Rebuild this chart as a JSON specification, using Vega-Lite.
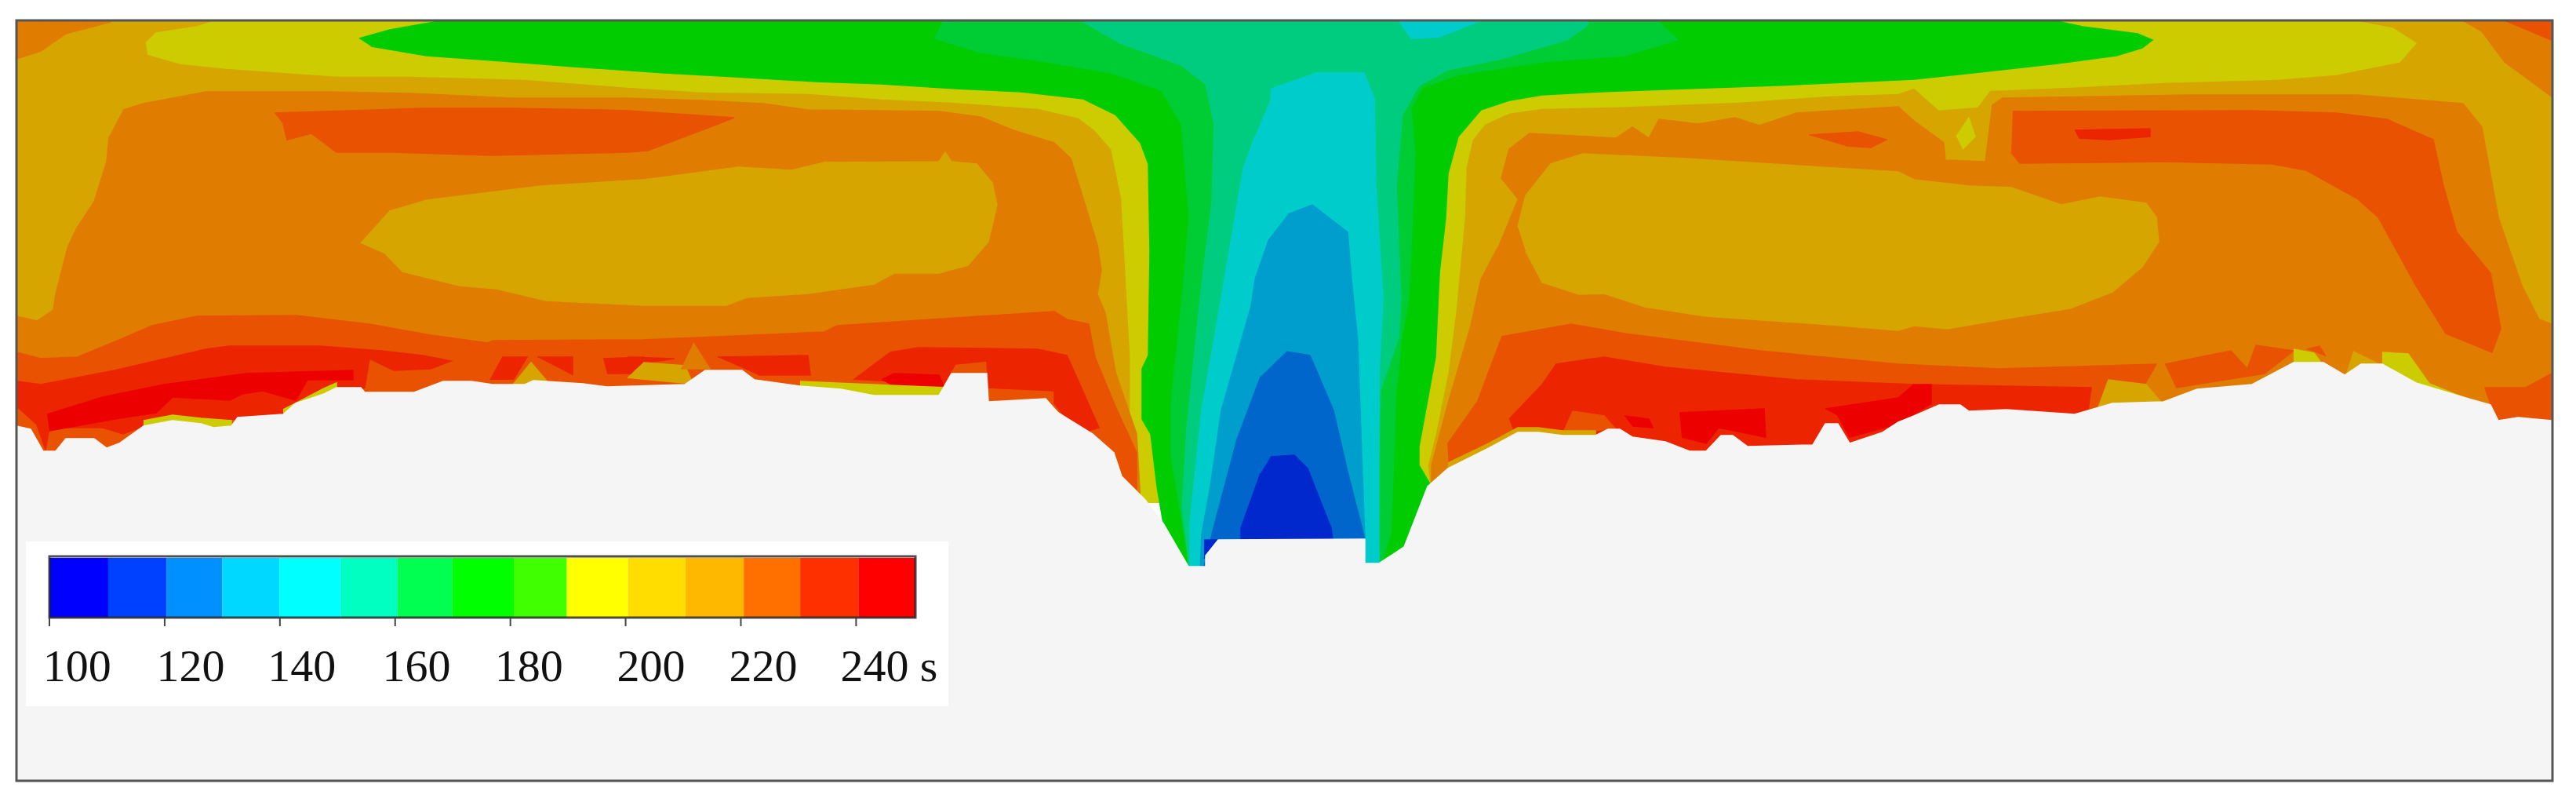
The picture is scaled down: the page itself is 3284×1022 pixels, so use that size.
{"$schema":"https://vega.github.io/schema/vega-lite/v6.json","width":3284,"height":1022,"padding":0,"autosize":"none","background":"white","config":{"view":{"stroke":null}},
"datasets":{"regions":[
{"s":1,"b":200,"x":21,"y":26},{"s":1,"b":200,"x":3253,"y":26},{"s":1,"b":200,"x":3253,"y":640},{"s":1,"b":200,"x":21,"y":640},
{"s":2,"b":220,"x":21,"y":26},{"s":2,"b":220,"x":141,"y":28},{"s":2,"b":220,"x":84,"y":43},{"s":2,"b":220,"x":52,"y":65},{"s":2,"b":220,"x":21,"y":75},
{"s":3,"b":220,"x":3140,"y":26},{"s":3,"b":220,"x":3164,"y":40},{"s":3,"b":220,"x":3193,"y":79},{"s":3,"b":220,"x":3253,"y":123},{"s":3,"b":220,"x":3253,"y":26},
{"s":4,"b":230,"x":3193,"y":26},{"s":4,"b":230,"x":3253,"y":51},{"s":4,"b":230,"x":3253,"y":26},
{"s":5,"b":190,"x":186,"y":55},{"s":5,"b":190,"x":199,"y":42},{"s":5,"b":190,"x":251,"y":34},{"s":5,"b":190,"x":277,"y":26},{"s":5,"b":190,"x":2997,"y":26},{"s":5,"b":190,"x":3050,"y":36},{"s":5,"b":190,"x":3080,"y":55},{"s":5,"b":190,"x":3059,"y":79},{"s":5,"b":190,"x":2978,"y":95},{"s":5,"b":190,"x":2903,"y":101},{"s":5,"b":190,"x":2758,"y":105},{"s":5,"b":190,"x":2639,"y":111},{"s":5,"b":190,"x":2537,"y":115},{"s":5,"b":190,"x":2521,"y":136},{"s":5,"b":190,"x":2472,"y":140},{"s":5,"b":190,"x":2440,"y":112},{"s":5,"b":190,"x":2420,"y":119},{"s":5,"b":190,"x":2332,"y":122},{"s":5,"b":190,"x":2217,"y":130},{"s":5,"b":190,"x":2060,"y":136},{"s":5,"b":190,"x":1966,"y":138},{"s":5,"b":190,"x":1924,"y":144},{"s":5,"b":190,"x":1893,"y":158},{"s":5,"b":190,"x":1877,"y":178},{"s":5,"b":190,"x":1869,"y":213},{"s":5,"b":190,"x":1867,"y":277},{"s":5,"b":190,"x":1856,"y":395},{"s":5,"b":190,"x":1846,"y":474},{"s":5,"b":190,"x":1830,"y":553},{"s":5,"b":190,"x":1820,"y":593},{"s":5,"b":190,"x":1825,"y":640},{"s":5,"b":190,"x":1454,"y":640},{"s":5,"b":190,"x":1441,"y":553},{"s":5,"b":190,"x":1441,"y":451},{"s":5,"b":190,"x":1430,"y":253},{"s":5,"b":190,"x":1417,"y":190},{"s":5,"b":190,"x":1396,"y":166},{"s":5,"b":190,"x":1375,"y":150},{"s":5,"b":190,"x":1323,"y":138},{"s":5,"b":190,"x":1213,"y":130},{"s":5,"b":190,"x":1124,"y":126},{"s":5,"b":190,"x":1030,"y":119},{"s":5,"b":190,"x":894,"y":117},{"s":5,"b":190,"x":800,"y":111},{"s":5,"b":190,"x":669,"y":101},{"s":5,"b":190,"x":523,"y":97},{"s":5,"b":190,"x":429,"y":97},{"s":5,"b":190,"x":288,"y":87},{"s":5,"b":190,"x":230,"y":81},{"s":5,"b":190,"x":188,"y":69},
{"s":6,"b":190,"x":2494,"y":174},{"s":6,"b":190,"x":2510,"y":150},{"s":6,"b":190,"x":2518,"y":174},{"s":6,"b":190,"x":2502,"y":190},
{"s":7,"b":170,"x":458,"y":49},{"s":7,"b":170,"x":497,"y":38},{"s":7,"b":170,"x":565,"y":26},{"s":7,"b":170,"x":2618,"y":26},{"s":7,"b":170,"x":2655,"y":34},{"s":7,"b":170,"x":2725,"y":43},{"s":7,"b":170,"x":2744,"y":51},{"s":7,"b":170,"x":2731,"y":61},{"s":7,"b":170,"x":2698,"y":71},{"s":7,"b":170,"x":2623,"y":81},{"s":7,"b":170,"x":2515,"y":93},{"s":7,"b":170,"x":2440,"y":101},{"s":7,"b":170,"x":2264,"y":109},{"s":7,"b":170,"x":2149,"y":113},{"s":7,"b":170,"x":2039,"y":117},{"s":7,"b":170,"x":1966,"y":121},{"s":7,"b":170,"x":1924,"y":128},{"s":7,"b":170,"x":1888,"y":140},{"s":7,"b":170,"x":1859,"y":174},{"s":7,"b":170,"x":1846,"y":221},{"s":7,"b":170,"x":1843,"y":277},{"s":7,"b":170,"x":1835,"y":348},{"s":7,"b":170,"x":1830,"y":455},{"s":7,"b":170,"x":1809,"y":569},{"s":7,"b":170,"x":1809,"y":593},{"s":7,"b":170,"x":1825,"y":620},{"s":7,"b":170,"x":1790,"y":730},{"s":7,"b":170,"x":1500,"y":730},{"s":7,"b":170,"x":1483,"y":667},{"s":7,"b":170,"x":1475,"y":620},{"s":7,"b":170,"x":1467,"y":553},{"s":7,"b":170,"x":1456,"y":534},{"s":7,"b":170,"x":1456,"y":470},{"s":7,"b":170,"x":1464,"y":453},{"s":7,"b":170,"x":1466,"y":320},{"s":7,"b":170,"x":1464,"y":209},{"s":7,"b":170,"x":1454,"y":182},{"s":7,"b":170,"x":1422,"y":146},{"s":7,"b":170,"x":1381,"y":126},{"s":7,"b":170,"x":1302,"y":117},{"s":7,"b":170,"x":1218,"y":113},{"s":7,"b":170,"x":1124,"y":107},{"s":7,"b":170,"x":1041,"y":104},{"s":7,"b":170,"x":920,"y":97},{"s":7,"b":170,"x":847,"y":93},{"s":7,"b":170,"x":732,"y":85},{"s":7,"b":170,"x":628,"y":77},{"s":7,"b":170,"x":544,"y":71},{"s":7,"b":170,"x":473,"y":59},
{"s":8,"b":160,"x":1203,"y":26},{"s":8,"b":160,"x":1192,"y":49},{"s":8,"b":160,"x":1250,"y":67},{"s":8,"b":160,"x":1323,"y":77},{"s":8,"b":160,"x":1417,"y":93},{"s":8,"b":160,"x":1480,"y":115},{"s":8,"b":160,"x":1506,"y":158},{"s":8,"b":160,"x":1516,"y":277},{"s":8,"b":160,"x":1507,"y":380},{"s":8,"b":160,"x":1493,"y":513},{"s":8,"b":160,"x":1493,"y":580},{"s":8,"b":160,"x":1515,"y":713},{"s":8,"b":160,"x":1515,"y":730},{"s":8,"b":160,"x":1758,"y":730},{"s":8,"b":160,"x":1773,"y":680},{"s":8,"b":160,"x":1777,"y":580},{"s":8,"b":160,"x":1780,"y":497},{"s":8,"b":160,"x":1787,"y":430},{"s":8,"b":160,"x":1796,"y":380},{"s":8,"b":160,"x":1799,"y":316},{"s":8,"b":160,"x":1804,"y":197},{"s":8,"b":160,"x":1799,"y":138},{"s":8,"b":160,"x":1814,"y":111},{"s":8,"b":160,"x":1861,"y":95},{"s":8,"b":160,"x":1966,"y":79},{"s":8,"b":160,"x":2071,"y":71},{"s":8,"b":160,"x":2139,"y":51},{"s":8,"b":160,"x":2113,"y":26},
{"s":9,"b":150,"x":1378,"y":26},{"s":9,"b":150,"x":1428,"y":55},{"s":9,"b":150,"x":1506,"y":83},{"s":9,"b":150,"x":1537,"y":107},{"s":9,"b":150,"x":1548,"y":158},{"s":9,"b":150,"x":1545,"y":257},{"s":9,"b":150,"x":1530,"y":380},{"s":9,"b":150,"x":1513,"y":547},{"s":9,"b":150,"x":1507,"y":647},{"s":9,"b":150,"x":1515,"y":713},{"s":9,"b":150,"x":1515,"y":730},{"s":9,"b":150,"x":1758,"y":730},{"s":9,"b":150,"x":1757,"y":613},{"s":9,"b":150,"x":1760,"y":497},{"s":9,"b":150,"x":1783,"y":430},{"s":9,"b":150,"x":1786,"y":380},{"s":9,"b":150,"x":1780,"y":237},{"s":9,"b":150,"x":1788,"y":146},{"s":9,"b":150,"x":1809,"y":109},{"s":9,"b":150,"x":1846,"y":89},{"s":9,"b":150,"x":1914,"y":75},{"s":9,"b":150,"x":1997,"y":51},{"s":9,"b":150,"x":2024,"y":32},{"s":9,"b":150,"x":2024,"y":26},
{"s":10,"b":140,"x":1620,"y":126},{"s":10,"b":140,"x":1621,"y":113},{"s":10,"b":140,"x":1678,"y":93},{"s":10,"b":140,"x":1739,"y":93},{"s":10,"b":140,"x":1752,"y":126},{"s":10,"b":140,"x":1754,"y":237},{"s":10,"b":140,"x":1763,"y":380},{"s":10,"b":140,"x":1758,"y":480},{"s":10,"b":140,"x":1758,"y":730},{"s":10,"b":140,"x":1517,"y":730},{"s":10,"b":140,"x":1517,"y":667},{"s":10,"b":140,"x":1532,"y":523},{"s":10,"b":140,"x":1557,"y":380},{"s":10,"b":140,"x":1585,"y":215},{"s":10,"b":140,"x":1600,"y":174},
{"s":11,"b":140,"x":1783,"y":26},{"s":11,"b":140,"x":1799,"y":49},{"s":11,"b":140,"x":1835,"y":47},{"s":11,"b":140,"x":1888,"y":26},
{"s":12,"b":130,"x":1642,"y":273},{"s":12,"b":130,"x":1673,"y":261},{"s":12,"b":130,"x":1718,"y":296},{"s":12,"b":130,"x":1723,"y":356},{"s":12,"b":130,"x":1731,"y":435},{"s":12,"b":130,"x":1733,"y":497},{"s":12,"b":130,"x":1740,"y":687},{"s":12,"b":130,"x":1740,"y":730},{"s":12,"b":130,"x":1530,"y":730},{"s":12,"b":130,"x":1532,"y":680},{"s":12,"b":130,"x":1543,"y":620},{"s":12,"b":130,"x":1557,"y":523},{"s":12,"b":130,"x":1595,"y":390},{"s":12,"b":130,"x":1600,"y":356},{"s":12,"b":130,"x":1618,"y":304},
{"s":13,"b":120,"x":1640,"y":448},{"s":13,"b":120,"x":1670,"y":453},{"s":13,"b":120,"x":1700,"y":523},{"s":13,"b":120,"x":1717,"y":597},{"s":13,"b":120,"x":1740,"y":687},{"s":13,"b":120,"x":1740,"y":730},{"s":13,"b":120,"x":1533,"y":730},{"s":13,"b":120,"x":1547,"y":673},{"s":13,"b":120,"x":1577,"y":560},{"s":13,"b":120,"x":1607,"y":480},
{"s":14,"b":110,"x":1620,"y":582},{"s":14,"b":110,"x":1650,"y":580},{"s":14,"b":110,"x":1667,"y":597},{"s":14,"b":110,"x":1697,"y":673},{"s":14,"b":110,"x":1700,"y":695},{"s":14,"b":110,"x":1582,"y":695},{"s":14,"b":110,"x":1582,"y":673},{"s":14,"b":110,"x":1607,"y":603},
{"s":15,"b":110,"x":1535,"y":688},{"s":15,"b":110,"x":1553,"y":688},{"s":15,"b":110,"x":1540,"y":705},{"s":15,"b":110,"x":1535,"y":712},
{"s":16,"b":220,"x":157,"y":140},{"s":16,"b":220,"x":183,"y":132},{"s":16,"b":220,"x":262,"y":117},{"s":16,"b":220,"x":418,"y":117},{"s":16,"b":220,"x":523,"y":119},{"s":16,"b":220,"x":654,"y":125},{"s":16,"b":220,"x":800,"y":125},{"s":16,"b":220,"x":894,"y":128},{"s":16,"b":220,"x":973,"y":132},{"s":16,"b":220,"x":1030,"y":140},{"s":16,"b":220,"x":1197,"y":142},{"s":16,"b":220,"x":1250,"y":149},{"s":16,"b":220,"x":1292,"y":166},{"s":16,"b":220,"x":1344,"y":182},{"s":16,"b":220,"x":1365,"y":202},{"s":16,"b":220,"x":1381,"y":253},{"s":16,"b":220,"x":1399,"y":312},{"s":16,"b":220,"x":1404,"y":344},{"s":16,"b":220,"x":1399,"y":375},{"s":16,"b":220,"x":1409,"y":399},{"s":16,"b":220,"x":1422,"y":474},{"s":16,"b":220,"x":1449,"y":553},{"s":16,"b":220,"x":1454,"y":640},{"s":16,"b":220,"x":21,"y":640},{"s":16,"b":220,"x":21,"y":403},{"s":16,"b":220,"x":47,"y":409},{"s":16,"b":220,"x":68,"y":395},{"s":16,"b":220,"x":71,"y":375},{"s":16,"b":220,"x":86,"y":316},{"s":16,"b":220,"x":97,"y":292},{"s":16,"b":220,"x":120,"y":257},{"s":16,"b":220,"x":136,"y":206},{"s":16,"b":220,"x":139,"y":174},
{"s":17,"b":230,"x":350,"y":144},{"s":17,"b":230,"x":539,"y":138},{"s":17,"b":230,"x":654,"y":138},{"s":17,"b":230,"x":769,"y":140},{"s":17,"b":230,"x":800,"y":141},{"s":17,"b":230,"x":936,"y":150},{"s":17,"b":230,"x":905,"y":162},{"s":17,"b":230,"x":852,"y":182},{"s":17,"b":230,"x":826,"y":192},{"s":17,"b":230,"x":800,"y":194},{"s":17,"b":230,"x":628,"y":198},{"s":17,"b":230,"x":502,"y":194},{"s":17,"b":230,"x":429,"y":194},{"s":17,"b":230,"x":397,"y":170},{"s":17,"b":230,"x":366,"y":178},{"s":17,"b":230,"x":361,"y":158},
{"s":18,"b":200,"x":460,"y":310},{"s":18,"b":200,"x":497,"y":269},{"s":18,"b":200,"x":544,"y":255},{"s":18,"b":200,"x":690,"y":237},{"s":18,"b":200,"x":820,"y":229},{"s":18,"b":200,"x":852,"y":225},{"s":18,"b":200,"x":941,"y":213},{"s":18,"b":200,"x":1009,"y":217},{"s":18,"b":200,"x":1051,"y":207},{"s":18,"b":200,"x":1197,"y":206},{"s":18,"b":200,"x":1205,"y":194},{"s":18,"b":200,"x":1213,"y":206},{"s":18,"b":200,"x":1245,"y":209},{"s":18,"b":200,"x":1265,"y":233},{"s":18,"b":200,"x":1271,"y":261},{"s":18,"b":200,"x":1260,"y":308},{"s":18,"b":200,"x":1234,"y":338},{"s":18,"b":200,"x":1197,"y":348},{"s":18,"b":200,"x":1140,"y":348},{"s":18,"b":200,"x":1114,"y":362},{"s":18,"b":200,"x":1030,"y":374},{"s":18,"b":200,"x":952,"y":379},{"s":18,"b":200,"x":926,"y":389},{"s":18,"b":200,"x":820,"y":389},{"s":18,"b":200,"x":696,"y":383},{"s":18,"b":200,"x":633,"y":368},{"s":18,"b":200,"x":586,"y":364},{"s":18,"b":200,"x":513,"y":346},{"s":18,"b":200,"x":492,"y":324},
{"s":19,"b":230,"x":21,"y":449},{"s":19,"b":230,"x":52,"y":457},{"s":19,"b":230,"x":99,"y":455},{"s":19,"b":230,"x":157,"y":431},{"s":19,"b":230,"x":194,"y":415},{"s":19,"b":230,"x":251,"y":403},{"s":19,"b":230,"x":377,"y":402},{"s":19,"b":230,"x":471,"y":413},{"s":19,"b":230,"x":549,"y":427},{"s":19,"b":230,"x":622,"y":437},{"s":19,"b":230,"x":628,"y":434},{"s":19,"b":230,"x":820,"y":433},{"s":19,"b":230,"x":915,"y":429},{"s":19,"b":230,"x":1051,"y":423},{"s":19,"b":230,"x":1067,"y":415},{"s":19,"b":230,"x":1218,"y":405},{"s":19,"b":230,"x":1344,"y":397},{"s":19,"b":230,"x":1360,"y":407},{"s":19,"b":230,"x":1388,"y":413},{"s":19,"b":230,"x":1396,"y":455},{"s":19,"b":230,"x":1422,"y":518},{"s":19,"b":230,"x":1449,"y":577},{"s":19,"b":230,"x":1449,"y":640},{"s":19,"b":230,"x":21,"y":640},
{"s":20,"b":240,"x":21,"y":486},{"s":20,"b":240,"x":52,"y":490},{"s":20,"b":240,"x":146,"y":472},{"s":20,"b":240,"x":262,"y":445},{"s":20,"b":240,"x":293,"y":441},{"s":20,"b":240,"x":408,"y":441},{"s":20,"b":240,"x":486,"y":447},{"s":20,"b":240,"x":539,"y":453},{"s":20,"b":240,"x":575,"y":460},{"s":20,"b":240,"x":549,"y":470},{"s":20,"b":240,"x":502,"y":472},{"s":20,"b":240,"x":471,"y":457},{"s":20,"b":240,"x":465,"y":494},{"s":20,"b":240,"x":366,"y":530},{"s":20,"b":240,"x":314,"y":534},{"s":20,"b":240,"x":209,"y":538},{"s":20,"b":240,"x":178,"y":545},{"s":20,"b":240,"x":157,"y":553},{"s":20,"b":240,"x":131,"y":545},{"s":20,"b":240,"x":63,"y":545},{"s":20,"b":240,"x":58,"y":573},{"s":20,"b":240,"x":47,"y":541},{"s":20,"b":240,"x":26,"y":522},{"s":20,"b":240,"x":21,"y":518},
{"s":21,"b":240,"x":625,"y":484},{"s":21,"b":240,"x":641,"y":455},{"s":21,"b":240,"x":672,"y":455},{"s":21,"b":240,"x":654,"y":484},
{"s":22,"b":240,"x":685,"y":455},{"s":22,"b":240,"x":730,"y":455},{"s":22,"b":240,"x":730,"y":478},
{"s":23,"b":240,"x":769,"y":457},{"s":23,"b":240,"x":820,"y":455},{"s":23,"b":240,"x":805,"y":476},{"s":23,"b":240,"x":774,"y":476},
{"s":24,"b":240,"x":800,"y":455},{"s":24,"b":240,"x":860,"y":457},{"s":24,"b":240,"x":826,"y":462},{"s":24,"b":240,"x":800,"y":474},
{"s":25,"b":240,"x":915,"y":455},{"s":25,"b":240,"x":1030,"y":453},{"s":25,"b":240,"x":1033,"y":478},{"s":25,"b":240,"x":967,"y":478},
{"s":26,"b":240,"x":1088,"y":484},{"s":26,"b":240,"x":1135,"y":449},{"s":26,"b":240,"x":1171,"y":443},{"s":26,"b":240,"x":1323,"y":445},{"s":26,"b":240,"x":1360,"y":453},{"s":26,"b":240,"x":1375,"y":486},{"s":26,"b":240,"x":1401,"y":545},{"s":26,"b":240,"x":1375,"y":553},{"s":26,"b":240,"x":1344,"y":514},{"s":26,"b":240,"x":1344,"y":498},{"s":26,"b":240,"x":1260,"y":494},{"s":26,"b":240,"x":1258,"y":460},{"s":26,"b":240,"x":1218,"y":464},{"s":26,"b":240,"x":1203,"y":490},
{"s":27,"b":250,"x":60,"y":528},{"s":27,"b":250,"x":131,"y":506},{"s":27,"b":250,"x":209,"y":490},{"s":27,"b":250,"x":314,"y":476},{"s":27,"b":250,"x":450,"y":472},{"s":27,"b":250,"x":450,"y":484},{"s":27,"b":250,"x":392,"y":484},{"s":27,"b":250,"x":377,"y":510},{"s":27,"b":250,"x":335,"y":498},{"s":27,"b":250,"x":309,"y":502},{"s":27,"b":250,"x":293,"y":510},{"s":27,"b":250,"x":220,"y":506},{"s":27,"b":250,"x":199,"y":526},{"s":27,"b":250,"x":146,"y":534},{"s":27,"b":250,"x":63,"y":549},
{"s":28,"b":250,"x":1124,"y":484},{"s":28,"b":250,"x":1140,"y":476},{"s":28,"b":250,"x":1197,"y":478},{"s":28,"b":250,"x":1203,"y":492},{"s":28,"b":250,"x":1135,"y":490},
{"s":29,"b":200,"x":654,"y":490},{"s":29,"b":200,"x":677,"y":462},{"s":29,"b":200,"x":701,"y":490},
{"s":30,"b":200,"x":800,"y":482},{"s":30,"b":200,"x":821,"y":462},{"s":30,"b":200,"x":873,"y":466},{"s":30,"b":200,"x":884,"y":490},
{"s":31,"b":220,"x":884,"y":437},{"s":31,"b":220,"x":905,"y":470},{"s":31,"b":220,"x":868,"y":470},
{"s":32,"b":190,"x":1020,"y":486},{"s":32,"b":190,"x":1203,"y":494},{"s":32,"b":190,"x":1197,"y":510},{"s":32,"b":190,"x":1020,"y":500},
{"s":33,"b":220,"x":1935,"y":253},{"s":33,"b":220,"x":1914,"y":227},{"s":33,"b":220,"x":1924,"y":190},{"s":33,"b":220,"x":1950,"y":170},{"s":33,"b":220,"x":2060,"y":176},{"s":33,"b":220,"x":2081,"y":162},{"s":33,"b":220,"x":2102,"y":176},{"s":33,"b":220,"x":2115,"y":152},{"s":33,"b":220,"x":2165,"y":158},{"s":33,"b":220,"x":2212,"y":150},{"s":33,"b":220,"x":2243,"y":160},{"s":33,"b":220,"x":2290,"y":144},{"s":33,"b":220,"x":2420,"y":136},{"s":33,"b":220,"x":2440,"y":154},{"s":33,"b":220,"x":2478,"y":182},{"s":33,"b":220,"x":2480,"y":204},{"s":33,"b":220,"x":2531,"y":206},{"s":33,"b":220,"x":2540,"y":134},{"s":33,"b":220,"x":2553,"y":125},{"s":33,"b":220,"x":2790,"y":121},{"s":33,"b":220,"x":3005,"y":121},{"s":33,"b":220,"x":3140,"y":132},{"s":33,"b":220,"x":3164,"y":162},{"s":33,"b":220,"x":3185,"y":277},{"s":33,"b":220,"x":3215,"y":364},{"s":33,"b":220,"x":3237,"y":407},{"s":33,"b":220,"x":3253,"y":413},{"s":33,"b":220,"x":3253,"y":640},{"s":33,"b":220,"x":1825,"y":640},{"s":33,"b":220,"x":1825,"y":593},{"s":33,"b":220,"x":1846,"y":514},{"s":33,"b":220,"x":1875,"y":415},{"s":33,"b":220,"x":1888,"y":356},{"s":33,"b":220,"x":1909,"y":316},
{"s":34,"b":200,"x":1935,"y":289},{"s":34,"b":200,"x":1945,"y":249},{"s":34,"b":200,"x":1977,"y":209},{"s":34,"b":200,"x":2018,"y":196},{"s":34,"b":200,"x":2149,"y":202},{"s":34,"b":200,"x":2322,"y":213},{"s":34,"b":200,"x":2420,"y":219},{"s":34,"b":200,"x":2440,"y":229},{"s":34,"b":200,"x":2510,"y":237},{"s":34,"b":200,"x":2564,"y":239},{"s":34,"b":200,"x":2628,"y":261},{"s":34,"b":200,"x":2677,"y":251},{"s":34,"b":200,"x":2736,"y":259},{"s":34,"b":200,"x":2749,"y":277},{"s":34,"b":200,"x":2752,"y":308},{"s":34,"b":200,"x":2731,"y":340},{"s":34,"b":200,"x":2693,"y":372},{"s":34,"b":200,"x":2639,"y":393},{"s":34,"b":200,"x":2564,"y":405},{"s":34,"b":200,"x":2483,"y":419},{"s":34,"b":200,"x":2440,"y":415},{"s":34,"b":200,"x":2420,"y":421},{"s":34,"b":200,"x":2322,"y":413},{"s":34,"b":200,"x":2175,"y":403},{"s":34,"b":200,"x":2097,"y":391},{"s":34,"b":200,"x":2045,"y":374},{"s":34,"b":200,"x":2013,"y":375},{"s":34,"b":200,"x":1966,"y":360},{"s":34,"b":200,"x":1945,"y":320},
{"s":35,"b":230,"x":2566,"y":142},{"s":35,"b":230,"x":2871,"y":141},{"s":35,"b":230,"x":2978,"y":144},{"s":35,"b":230,"x":3043,"y":152},{"s":35,"b":230,"x":3102,"y":178},{"s":35,"b":230,"x":3115,"y":237},{"s":35,"b":230,"x":3132,"y":296},{"s":35,"b":230,"x":3175,"y":348},{"s":35,"b":230,"x":3188,"y":419},{"s":35,"b":230,"x":3177,"y":449},{"s":35,"b":230,"x":3118,"y":425},{"s":35,"b":230,"x":3080,"y":364},{"s":35,"b":230,"x":3032,"y":277},{"s":35,"b":230,"x":3005,"y":253},{"s":35,"b":230,"x":2940,"y":217},{"s":35,"b":230,"x":2897,"y":209},{"s":35,"b":230,"x":2763,"y":206},{"s":35,"b":230,"x":2575,"y":208},{"s":35,"b":230,"x":2564,"y":194},
{"s":36,"b":230,"x":2306,"y":172},{"s":36,"b":230,"x":2369,"y":168},{"s":36,"b":230,"x":2405,"y":178},{"s":36,"b":230,"x":2385,"y":188},{"s":36,"b":230,"x":2353,"y":186},
{"s":37,"b":240,"x":2645,"y":166},{"s":37,"b":240,"x":2741,"y":164},{"s":37,"b":240,"x":2741,"y":174},{"s":37,"b":240,"x":2688,"y":178},{"s":37,"b":240,"x":2650,"y":176},
{"s":38,"b":230,"x":1914,"y":429},{"s":38,"b":230,"x":2003,"y":413},{"s":38,"b":230,"x":2071,"y":425},{"s":38,"b":230,"x":2243,"y":447},{"s":38,"b":230,"x":2420,"y":464},{"s":38,"b":230,"x":2548,"y":470},{"s":38,"b":230,"x":2749,"y":464},{"s":38,"b":230,"x":2733,"y":492},{"s":38,"b":230,"x":2693,"y":488},{"s":38,"b":230,"x":2671,"y":526},{"s":38,"b":230,"x":2671,"y":640},{"s":38,"b":230,"x":1850,"y":640},{"s":38,"b":230,"x":1846,"y":565},{"s":38,"b":230,"x":1882,"y":514},
{"s":39,"b":230,"x":2760,"y":464},{"s":39,"b":230,"x":2844,"y":447},{"s":39,"b":230,"x":2865,"y":470},{"s":39,"b":230,"x":2876,"y":440},{"s":39,"b":230,"x":2924,"y":447},{"s":39,"b":230,"x":2887,"y":476},{"s":39,"b":230,"x":2774,"y":494},
{"s":40,"b":230,"x":2941,"y":445},{"s":40,"b":230,"x":2957,"y":441},{"s":40,"b":230,"x":2965,"y":454},
{"s":41,"b":230,"x":3167,"y":494},{"s":41,"b":230,"x":3220,"y":494},{"s":41,"b":230,"x":3253,"y":476},{"s":41,"b":230,"x":3253,"y":540},{"s":41,"b":230,"x":3183,"y":540},
{"s":42,"b":240,"x":1924,"y":534},{"s":42,"b":240,"x":1966,"y":490},{"s":42,"b":240,"x":1984,"y":464},{"s":42,"b":240,"x":2045,"y":455},{"s":42,"b":240,"x":2123,"y":468},{"s":42,"b":240,"x":2290,"y":484},{"s":42,"b":240,"x":2440,"y":490},{"s":42,"b":240,"x":2666,"y":494},{"s":42,"b":240,"x":2661,"y":530},{"s":42,"b":240,"x":2440,"y":640},{"s":42,"b":240,"x":1960,"y":640},{"s":42,"b":240,"x":1930,"y":551},
{"s":43,"b":230,"x":1992,"y":553},{"s":43,"b":230,"x":2005,"y":524},{"s":43,"b":230,"x":2045,"y":530},{"s":43,"b":230,"x":2060,"y":547},
{"s":44,"b":250,"x":2141,"y":526},{"s":44,"b":250,"x":2249,"y":521},{"s":44,"b":250,"x":2251,"y":557},{"s":44,"b":250,"x":2191,"y":545},{"s":44,"b":250,"x":2175,"y":565},{"s":44,"b":250,"x":2144,"y":557},
{"s":45,"b":250,"x":2327,"y":521},{"s":45,"b":250,"x":2420,"y":507},{"s":45,"b":250,"x":2440,"y":490},{"s":45,"b":250,"x":2462,"y":490},{"s":45,"b":250,"x":2462,"y":514},{"s":45,"b":250,"x":2420,"y":540},{"s":45,"b":250,"x":2358,"y":557},{"s":45,"b":250,"x":2343,"y":530},
{"s":46,"b":250,"x":2071,"y":530},{"s":46,"b":250,"x":2102,"y":534},{"s":46,"b":250,"x":2107,"y":545},{"s":46,"b":250,"x":2081,"y":543},
{"s":47,"b":200,"x":2671,"y":530},{"s":47,"b":200,"x":2688,"y":484},{"s":47,"b":200,"x":2736,"y":490},{"s":47,"b":200,"x":2758,"y":516},
{"s":48,"b":190,"x":3037,"y":449},{"s":48,"b":190,"x":3070,"y":451},{"s":48,"b":190,"x":3097,"y":489},{"s":48,"b":190,"x":3140,"y":506},{"s":48,"b":190,"x":3113,"y":512},{"s":48,"b":190,"x":3080,"y":492},{"s":48,"b":190,"x":3037,"y":470},
{"s":49,"b":190,"x":2924,"y":445},{"s":49,"b":190,"x":2950,"y":450},{"s":49,"b":190,"x":2962,"y":466},{"s":49,"b":190,"x":2924,"y":466},
{"s":50,"b":200,"x":3000,"y":448},{"s":50,"b":200,"x":3037,"y":466},{"s":50,"b":200,"x":3010,"y":470},{"s":50,"b":200,"x":2989,"y":482},
{"s":52,"b":190,"x":183,"y":536},{"s":52,"b":190,"x":220,"y":529},{"s":52,"b":190,"x":256,"y":533},{"s":52,"b":190,"x":295,"y":536},{"s":52,"b":190,"x":295,"y":550},{"s":52,"b":190,"x":183,"y":550},
{"s":53,"b":190,"x":361,"y":522},{"s":53,"b":190,"x":413,"y":495},{"s":53,"b":190,"x":429,"y":488},{"s":53,"b":190,"x":429,"y":500},{"s":53,"b":190,"x":361,"y":535},
{"s":54,"b":200,"x":1846,"y":590},{"s":54,"b":200,"x":1898,"y":565},{"s":54,"b":200,"x":1935,"y":545},{"s":54,"b":200,"x":1961,"y":545},{"s":54,"b":200,"x":1992,"y":549},{"s":54,"b":200,"x":2034,"y":549},{"s":54,"b":200,"x":2034,"y":560},{"s":54,"b":200,"x":1846,"y":600},
{"s":51,"b":0,"x":21,"y":543},{"s":51,"b":0,"x":39,"y":547},{"s":51,"b":0,"x":55,"y":575},{"s":51,"b":0,"x":71,"y":575},{"s":51,"b":0,"x":84,"y":559},{"s":51,"b":0,"x":120,"y":559},{"s":51,"b":0,"x":136,"y":571},{"s":51,"b":0,"x":152,"y":565},{"s":51,"b":0,"x":183,"y":543},{"s":51,"b":0,"x":220,"y":536},{"s":51,"b":0,"x":256,"y":540},{"s":51,"b":0,"x":272,"y":545},{"s":51,"b":0,"x":295,"y":543},{"s":51,"b":0,"x":303,"y":532},{"s":51,"b":0,"x":361,"y":528},{"s":51,"b":0,"x":377,"y":514},{"s":51,"b":0,"x":413,"y":502},{"s":51,"b":0,"x":429,"y":494},{"s":51,"b":0,"x":460,"y":494},{"s":51,"b":0,"x":465,"y":500},{"s":51,"b":0,"x":528,"y":500},{"s":51,"b":0,"x":565,"y":486},{"s":51,"b":0,"x":601,"y":486},{"s":51,"b":0,"x":628,"y":490},{"s":51,"b":0,"x":669,"y":490},{"s":51,"b":0,"x":680,"y":485},{"s":51,"b":0,"x":743,"y":489},{"s":51,"b":0,"x":774,"y":493},{"s":51,"b":0,"x":873,"y":490},{"s":51,"b":0,"x":899,"y":472},{"s":51,"b":0,"x":946,"y":472},{"s":51,"b":0,"x":962,"y":484},{"s":51,"b":0,"x":1020,"y":492},{"s":51,"b":0,"x":1072,"y":496},{"s":51,"b":0,"x":1114,"y":504},{"s":51,"b":0,"x":1197,"y":504},{"s":51,"b":0,"x":1213,"y":476},{"s":51,"b":0,"x":1258,"y":476},{"s":51,"b":0,"x":1260,"y":512},{"s":51,"b":0,"x":1333,"y":508},{"s":51,"b":0,"x":1349,"y":526},{"s":51,"b":0,"x":1393,"y":553},{"s":51,"b":0,"x":1420,"y":577},{"s":51,"b":0,"x":1430,"y":607},{"s":51,"b":0,"x":1460,"y":637},{"s":51,"b":0,"x":1483,"y":667},{"s":51,"b":0,"x":1515,"y":722},{"s":51,"b":0,"x":1537,"y":722},{"s":51,"b":0,"x":1537,"y":708},{"s":51,"b":0,"x":1553,"y":688},{"s":51,"b":0,"x":1740,"y":687},{"s":51,"b":0,"x":1740,"y":718},{"s":51,"b":0,"x":1758,"y":718},{"s":51,"b":0,"x":1790,"y":697},{"s":51,"b":0,"x":1820,"y":620},{"s":51,"b":0,"x":1846,"y":597},{"s":51,"b":0,"x":1898,"y":571},{"s":51,"b":0,"x":1935,"y":551},{"s":51,"b":0,"x":1961,"y":551},{"s":51,"b":0,"x":1992,"y":555},{"s":51,"b":0,"x":2034,"y":555},{"s":51,"b":0,"x":2050,"y":547},{"s":51,"b":0,"x":2065,"y":547},{"s":51,"b":0,"x":2081,"y":557},{"s":51,"b":0,"x":2123,"y":563},{"s":51,"b":0,"x":2154,"y":575},{"s":51,"b":0,"x":2175,"y":575},{"s":51,"b":0,"x":2194,"y":555},{"s":51,"b":0,"x":2209,"y":555},{"s":51,"b":0,"x":2228,"y":569},{"s":51,"b":0,"x":2311,"y":567},{"s":51,"b":0,"x":2327,"y":540},{"s":51,"b":0,"x":2343,"y":540},{"s":51,"b":0,"x":2358,"y":565},{"s":51,"b":0,"x":2400,"y":551},{"s":51,"b":0,"x":2420,"y":538},{"s":51,"b":0,"x":2440,"y":530},{"s":51,"b":0,"x":2472,"y":516},{"s":51,"b":0,"x":2499,"y":516},{"s":51,"b":0,"x":2510,"y":524},{"s":51,"b":0,"x":2558,"y":522},{"s":51,"b":0,"x":2645,"y":528},{"s":51,"b":0,"x":2693,"y":514},{"s":51,"b":0,"x":2758,"y":512},{"s":51,"b":0,"x":2801,"y":496},{"s":51,"b":0,"x":2871,"y":490},{"s":51,"b":0,"x":2924,"y":462},{"s":51,"b":0,"x":2962,"y":462},{"s":51,"b":0,"x":2989,"y":478},{"s":51,"b":0,"x":3010,"y":464},{"s":51,"b":0,"x":3037,"y":464},{"s":51,"b":0,"x":3080,"y":488},{"s":51,"b":0,"x":3140,"y":506},{"s":51,"b":0,"x":3175,"y":516},{"s":51,"b":0,"x":3185,"y":536},{"s":51,"b":0,"x":3210,"y":532},{"s":51,"b":0,"x":3253,"y":536},{"s":51,"b":0,"x":3253,"y":995},{"s":51,"b":0,"x":21,"y":995}
],
"bar":[{"lo":100,"hi":110.2},{"lo":110.2,"hi":120.3},{"lo":120.3,"hi":130},{"lo":130,"hi":139.9},{"lo":139.9,"hi":150.6},{"lo":150.6,"hi":160.4},{"lo":160.4,"hi":169.9},{"lo":169.9,"hi":180.6},{"lo":180.6,"hi":189.8},{"lo":189.8,"hi":200.4},{"lo":200.4,"hi":210.4},{"lo":210.4,"hi":220.5},{"lo":220.5,"hi":230.3},{"lo":230.3,"hi":240.4},{"lo":240.4,"hi":250.3}],
"ticks":[{"v":100},{"v":120},{"v":140},{"v":160},{"v":180},{"v":200},{"v":220},{"v":240}],
"labels":[{"t":"100","at":104.8},{"t":"120","at":124.5},{"t":"140","at":143.8},{"t":"160","at":163.7},{"t":"180","at":183.2},{"t":"200","at":204.4},{"t":"220","at":223.9},{"t":"240","at":243.2},{"t":"s","at":252.6}]},
"resolve":{"scale":{"x":"independent","fill":"independent","stroke":"independent"}},
"layer":[
{"data":{"name":"regions"},"transform":[{"window":[{"op":"row_number","as":"i"}]}],"mark":{"type":"line","filled":true,"strokeWidth":1.5,"interpolate":"linear"},"encoding":{"x":{"field":"x","type":"quantitative","scale":{"domain":[0,3284],"nice":false,"zero":false},"axis":null},"y":{"field":"y","type":"quantitative","scale":{"domain":[1022,0],"nice":false,"zero":false},"axis":null},"detail":{"field":"s"},"order":{"field":"i","type":"quantitative"},"fill":{"field":"b","type":"nominal","legend":null,"scale":{"domain":[0,110,120,130,140,150,160,170,190,200,220,230,240,250],"range":["#f5f5f5","#0028cc","#0066cc","#009ecc","#00cccc","#00cc80","#00cc33","#00cc00","#cccc00","#d6a500","#e07c00","#e85200","#ec2400","#ec0000"]}},"stroke":{"field":"b","type":"nominal","legend":null,"scale":{"domain":[0,110,120,130,140,150,160,170,190,200,220,230,240,250],"range":["#f5f5f5","#0028cc","#0066cc","#009ecc","#00cccc","#00cc80","#00cc33","#00cc00","#cccc00","#d6a500","#e07c00","#e85200","#ec2400","#ec0000"]}}}},
{"data":{"values":[{"a":33,"b":1209}]},"mark":{"type":"rect","fill":"#ffffff"},"encoding":{"x":{"field":"a","type":"quantitative","scale":{"domain":[0,3284],"nice":false,"zero":false},"axis":null},"x2":{"field":"b"},"y":{"datum":690},"y2":{"datum":900}}},
{"data":{"name":"bar"},"mark":{"type":"rect"},"encoding":{"x":{"field":"lo","type":"quantitative","scale":{"domain":[91.42,538.5],"nice":false,"zero":false},"axis":null},"x2":{"field":"hi"},"y":{"datum":711},"y2":{"datum":787},"fill":{"field":"lo","type":"quantitative","legend":null,"scale":{"type":"threshold","domain":[110.2,120.3,130,139.9,150.6,160.4,169.9,180.6,189.8,200.4,210.4,220.5,230.3,240.4],"range":["#0000ff","#0040ff","#0090ff","#00d8ff","#00ffff","#00ffc0","#00ff50","#00ff00","#40ff00","#ffff00","#ffdd00","#ffb800","#ff7000","#ff3000","#ff0000"]}}}},
{"data":{"values":[{"a":100,"b":250.3}]},"mark":{"type":"rect","fill":"transparent","stroke":"#222222","strokeWidth":3,"strokeOpacity":0.8},"encoding":{"x":{"field":"a","type":"quantitative","scale":{"domain":[91.42,538.5],"nice":false,"zero":false},"axis":null},"x2":{"field":"b"},"y":{"datum":709},"y2":{"datum":787}}},
{"data":{"name":"ticks"},"mark":{"type":"rule","stroke":"#444444","strokeWidth":2},"encoding":{"x":{"field":"v","type":"quantitative","scale":{"domain":[91.42,538.5],"nice":false,"zero":false},"axis":null},"y":{"datum":787},"y2":{"datum":798}}},
{"data":{"name":"labels"},"mark":{"type":"text","font":"Liberation Serif","fontSize":58,"fill":"#111111","align":"center","baseline":"alphabetic"},"encoding":{"x":{"field":"at","type":"quantitative","scale":{"domain":[91.42,538.5],"nice":false,"zero":false},"axis":null},"y":{"datum":868},"text":{"field":"t"}}},
{"data":{"values":[{"a":21,"b":3254}]},"mark":{"type":"rect","fill":"transparent","stroke":"#555555","strokeWidth":3},"encoding":{"x":{"field":"a","type":"quantitative","scale":{"domain":[0,3284],"nice":false,"zero":false},"axis":null},"x2":{"field":"b"},"y":{"datum":26},"y2":{"datum":995}}}
]}
